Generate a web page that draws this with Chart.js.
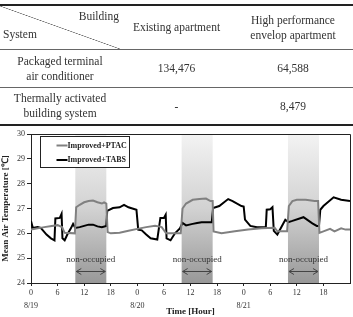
<!DOCTYPE html>
<html lang="en">
<head>
<meta charset="UTF-8">
<title>Mean air temperature - Improved+PTAC vs Improved+TABS</title>
<style>
    body {
        margin: 0;
        width: 353px;
        height: 317px;
        position: relative;
        background: #fff;
        overflow: hidden;
        font-family: "Liberation Serif", "Times New Roman", serif;
        color: #333;
    }
    #chartBox {
        position: absolute;
        left: 0;
        top: 0;
        width: 353px;
        height: 317px;
    }
    table {
        position: absolute;
        left: 0;
        top: 4px;
        width: 353px;
        border-collapse: collapse;
        font-size: 11.5px;
        line-height: 15px;
        z-index: 2;
    }
    td {
        padding: 0;
        text-align: center;
        vertical-align: middle;
        border-bottom: 1px solid #666;
    }
    tr:first-child td { border-top: 2px solid #222; height: 43px; }
    tr.r1 td { height: 37px; }
    tr.r2 td { height: 36px; border-bottom: 2px solid #222; }
    .diag {
        position: relative;
        height: 43px;
        background: linear-gradient(to top right, transparent calc(50% - 0.6px), #666 50%, transparent calc(50% + 0.6px));
    }
    .diag .b { position: absolute; right: 1px; top: 3px; }
    .diag .s { position: absolute; left: 3px; top: 21px; }
</style>
<script src="https://cdn.jsdelivr.net/npm/chart.js"></script>
</head>
<body>
<div id="chartBox"><canvas id="tempChart" width="353" height="317"></canvas></div>
<table id="loadTable">
    <colgroup><col style="width:120px"><col style="width:113px"><col style="width:120px"></colgroup>
    <tbody id="loadBody"></tbody>
</table>

<script>
// table values
const buildings = ['Existing apartment', 'High performance<br>envelop apartment'];
const systems = ['Packaged terminal<br>air conditioner', 'Thermally activated<br>building system'];
const loads = [['134,476', '64,588'], ['-', '8,479']];

// chart values (hour from 8/19 0:00, mean air temperature in degC)
const seriesNames = ['Improved+PTAC', 'Improved+TABS'];
const hoursPTAC = [0, 3, 6, 7, 7.6, 9.9, 10.2, 11, 12, 13, 14, 15, 16, 16.5, 17, 17.3, 18, 20, 22, 24,
    26, 28, 29.5, 30.5, 33.8, 34.2, 35, 36.5, 38, 39.5, 40.5, 41, 41.2, 43, 46, 49, 52, 55, 55.6, 57.8,
    58.2, 59, 60, 62, 64, 64.8, 65.1, 66, 67.5, 68.5, 70, 71, 72];
const tempPTAC = [26.15, 26.25, 26.33, 26.25, 26.02, 26.0, 27.05, 27.15, 27.25, 27.3, 27.32, 27.25, 27.2, 27.25, 27.2, 26.05, 26.0, 26.02, 26.1, 26.18,
    26.25, 26.3, 26.25, 26.0, 26.0, 27.0, 27.2, 27.35, 27.38, 27.4, 27.3, 27.3, 26.08, 26.0, 26.08, 26.15, 26.2, 26.22, 26.08, 26.08,
    27.1, 27.3, 27.35, 27.35, 27.3, 27.3, 26.02, 26.08, 26.18, 26.08, 26.2, 26.15, 26.15];
const hoursTABS = [0, 0.4, 1.5, 2.2, 3.5, 4.5, 5.3, 5.5, 6.5, 6.9, 7.1, 7.6, 8.2, 9, 9.5, 10, 11, 12, 13, 14,
    15, 16, 17, 17.2, 18.5, 20, 21, 22, 23.8, 24.2, 25, 26, 27, 28.5, 29.2, 30, 30.4, 30.6, 31.5, 32.5,
    33.6, 34.2, 35, 36.5, 37.5, 38.5, 40.8, 41.1, 42.5, 44.5, 45.5, 47.5, 48, 48.3, 49.5, 51, 53, 53.2, 54, 54.5,
    54.8, 55.6, 57.4, 58.1, 59, 61.5, 63.5, 64.5, 65, 65.3, 66, 68.3, 70, 72];
const tempTABS = [26.5, 26.22, 26.25, 26.22, 25.95, 25.8, 25.72, 26.6, 26.62, 26.78, 25.8, 25.72, 25.95, 26.2, 26.38, 26.22, 26.25, 26.3, 26.35, 26.35,
    26.28, 26.25, 26.3, 26.9, 27.02, 27.05, 27.15, 27.05, 26.95, 26.15, 26.12, 25.95, 25.8, 25.75, 26.62, 26.62, 26.75, 25.8, 25.72, 26.0,
    26.2, 26.42, 26.32, 26.38, 26.42, 26.45, 26.45, 27.02, 27.1, 27.38, 27.3, 27.1, 27.08, 26.55, 26.3, 26.25, 26.25, 26.95, 26.97, 27.05,
    26.1, 25.95, 26.55, 26.45, 26.5, 26.65, 26.4, 26.3, 26.3, 26.95, 27.1, 27.45, 27.35, 27.3];
const xTicks = [0, 6, 12, 18, 24, 30, 36, 42, 48, 54, 60, 66];
const dayLabels = ['8/19', '8/20', '8/21'];
const bandStart = [10, 34, 58];
const bandEnd = [17, 41, 65];
const bandText = 'non-occupied';

// build table
const body = document.getElementById('loadBody');
let html = '<tr><td><div class="diag"><span class="b">Building</span><span class="s">System</span></div></td>';
buildings.forEach(b => { html += '<td>' + b + '</td>'; });
html += '</tr>';
systems.forEach((s, i) => {
    html += '<tr class="r' + (i + 1) + '"><td>' + s + '</td><td>' + loads[i][0] + '</td><td>' + loads[i][1] + '</td></tr>';
});
body.innerHTML = html;

const serif = '"Liberation Serif", "Times New Roman", serif';

// shaded non-occupied periods
const bandPlugin = {
    id: 'bands',
    beforeDatasetsDraw(chart) {
        const ctx = chart.ctx, a = chart.chartArea, xs = chart.scales.x;
        const g = ctx.createLinearGradient(0, a.top, 0, a.bottom);
        g.addColorStop(0, '#f3f3f3');
        g.addColorStop(0.5, '#d2d2d2');
        g.addColorStop(1, '#989898');
        ctx.save();
        ctx.fillStyle = g;
        for (let i = 0; i < bandStart.length; i++) {
            const x1 = xs.getPixelForValue(bandStart[i]);
            const x2 = xs.getPixelForValue(bandEnd[i]);
            ctx.fillRect(x1, a.top, x2 - x1, a.bottom - a.top);
        }
        ctx.restore();
    },
    afterDatasetsDraw(chart) {
        const ctx = chart.ctx, xs = chart.scales.x, ys = chart.scales.y;
        ctx.save();
        ctx.strokeStyle = '#444';
        ctx.fillStyle = '#333';
        ctx.lineWidth = 1;
        ctx.font = '9px ' + serif;
        ctx.textAlign = 'center';
        ctx.textBaseline = 'middle';
        const ya = Math.round(ys.getPixelForValue(24.5)) + 0.5;
        const yt = ys.getPixelForValue(24.95);
        for (let i = 0; i < bandStart.length; i++) {
            const x1 = xs.getPixelForValue(bandStart[i]) + 1;
            const x2 = xs.getPixelForValue(bandEnd[i]) - 1;
            ctx.beginPath();
            ctx.moveTo(x1, ya); ctx.lineTo(x2, ya);
            ctx.moveTo(x1 + 5, ya - 3); ctx.lineTo(x1, ya); ctx.lineTo(x1 + 5, ya + 3);
            ctx.moveTo(x2 - 5, ya - 3); ctx.lineTo(x2, ya); ctx.lineTo(x2 - 5, ya + 3);
            ctx.stroke();
            ctx.fillText(bandText, (x1 + x2) / 2, yt);
        }
        ctx.restore();
    },
    afterDraw(chart) {
        const ctx = chart.ctx, a = chart.chartArea;
        ctx.save();
        // frame top and right
        ctx.strokeStyle = '#222';
        ctx.lineWidth = 1;
        ctx.beginPath();
        ctx.moveTo(a.left, a.top + 0.5); ctx.lineTo(a.right + 0.5, a.top + 0.5); ctx.lineTo(a.right + 0.5, a.bottom);
        ctx.stroke();
        // legend box
        const lx = Math.round(a.left) + 9.5, ly = Math.round(a.top) + 2.5, lw = 89, lh = 31;
        ctx.fillStyle = '#fff';
        ctx.fillRect(lx, ly, lw, lh);
        ctx.strokeRect(lx, ly, lw, lh);
        ctx.font = 'bold 8px ' + serif;
        ctx.textBaseline = 'middle';
        ctx.textAlign = 'left';
        chart.data.datasets.forEach((ds, i) => {
            const y = ly + 9 + i * 14.5;
            ctx.strokeStyle = ds.borderColor;
            ctx.lineWidth = 2;
            ctx.beginPath();
            ctx.moveTo(lx + 16, y); ctx.lineTo(lx + 27, y);
            ctx.stroke();
            ctx.fillStyle = '#222';
            ctx.fillText(ds.label, lx + 27, y);
        });
        ctx.restore();
    }
};

const toPoints = (hs, ts) => hs.map((h, i) => ({ x: h, y: ts[i] }));

new Chart(document.getElementById('tempChart').getContext('2d'), {
    type: 'line',
    data: {
        datasets: [{
            label: seriesNames[0],
            data: toPoints(hoursPTAC, tempPTAC),
            borderColor: '#808080',
            borderWidth: 2,
            pointRadius: 0,
            tension: 0
        }, {
            label: seriesNames[1],
            data: toPoints(hoursTABS, tempTABS),
            borderColor: '#000000',
            borderWidth: 2,
            pointRadius: 0,
            tension: 0
        }]
    },
    options: {
        responsive: false,
        animation: false,
        layout: { padding: { top: 134, right: 3, left: 0, bottom: 0 } },
        plugins: {
            legend: { display: false },
            tooltip: { enabled: false }
        },
        scales: {
            x: {
                type: 'linear',
                min: 0,
                max: 72,
                afterBuildTicks: s => { s.ticks = xTicks.map(v => ({ value: v })); },
                afterFit: s => { s.height = 34; },
                grid: { drawOnChartArea: false, tickLength: 3, color: '#222' },
                border: { color: '#222', width: 1 },
                ticks: {
                    autoSkip: false,
                    maxRotation: 0,
                    padding: 1,
                    color: '#333',
                    font: { family: serif, size: 8, lineHeight: 1.6 },
                    callback: v => {
                        const d = v / 24;
                        return Number.isInteger(d) ? [String(v % 24), dayLabels[d]] : [String(v % 24), ''];
                    }
                },
                title: {
                    display: true,
                    text: 'Time [Hour]',
                    color: '#222',
                    padding: 0,
                    font: { family: serif, size: 9, weight: 'bold' }
                }
            },
            y: {
                min: 24,
                max: 30,
                afterFit: s => { s.width = 31; },
                grid: { drawOnChartArea: false, tickLength: 4, color: '#222' },
                border: { color: '#222', width: 1 },
                ticks: {
                    stepSize: 1,
                    padding: 2,
                    color: '#333',
                    font: { family: serif, size: 8 }
                },
                title: {
                    display: true,
                    text: 'Mean Air Temperature [℃]',
                    color: '#222',
                    padding: 0,
                    font: { family: serif, size: 9, weight: 'bold' }
                }
            }
        }
    },
    plugins: [bandPlugin]
});
</script>
</body>
</html>
